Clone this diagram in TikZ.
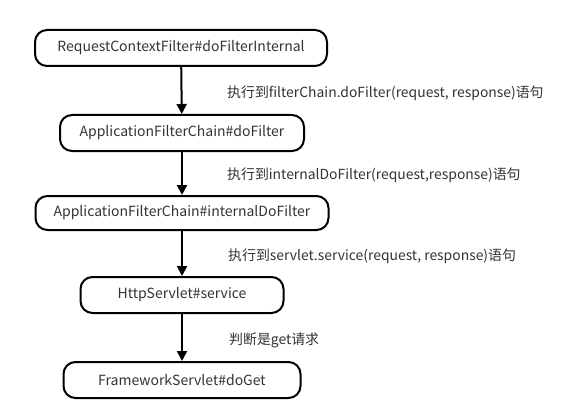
\documentclass[tikz,border=0pt]{standalone}
\usepackage{fontspec}
\setmainfont{Noto Sans CJK SC}
\usetikzlibrary{positioning,arrows.meta}

\definecolor{txtgray}{HTML}{333333}
\tikzset{
  stepnode/.style={draw,line width=2pt,rounded corners=12pt,minimum height=36pt,
    inner sep=0pt,font=\fontsize{14}{16}\selectfont,text=txtgray},
  steplabel/.style={anchor=west,inner sep=0pt,font=\fontsize{13.9}{16}\selectfont,text=txtgray},
  steparrow/.style={line width=2pt,-{Triangle[length=10pt,width=10pt]}}
}

\begin{document}
\begin{tikzpicture}[x=1pt,y=-1pt]
\useasboundingbox (0,0) rectangle (586,417);
\node[stepnode,minimum width=292pt] (filter) at (181,48) {RequestContextFilter\#doFilterInternal};
\node[stepnode,minimum width=244pt] (chain) at (182,133) {ApplicationFilterChain\#doFilter};
\node[stepnode,minimum width=293pt,minimum height=34pt] (internal) at (182,213) {ApplicationFilterChain\#internalDoFilter};
\node[stepnode,minimum width=203pt] (service) at (182,295) {HttpServlet\#service};
\node[stepnode,minimum width=237pt] (doget) at (182,380) {FrameworkServlet\#doGet};

\draw[steparrow] (filter) -- (chain);
\draw[steparrow] (chain) -- (internal);
\draw[steparrow] (internal) -- (service);
\draw[steparrow] (service) -- (doget);

\node[steplabel] (lbl1) at (227,93) {执行到filterChain.doFilter(request, response)语句};
\node[steplabel] (lbl2) at (227,175) {执行到internalDoFilter(request,response)语句};
\node[steplabel] (lbl3) at (228,256) {执行到servlet.service(request, response)语句};
\node[steplabel] (lbl4) at (229,340) {判断是get请求};
\end{tikzpicture}
\end{document}
